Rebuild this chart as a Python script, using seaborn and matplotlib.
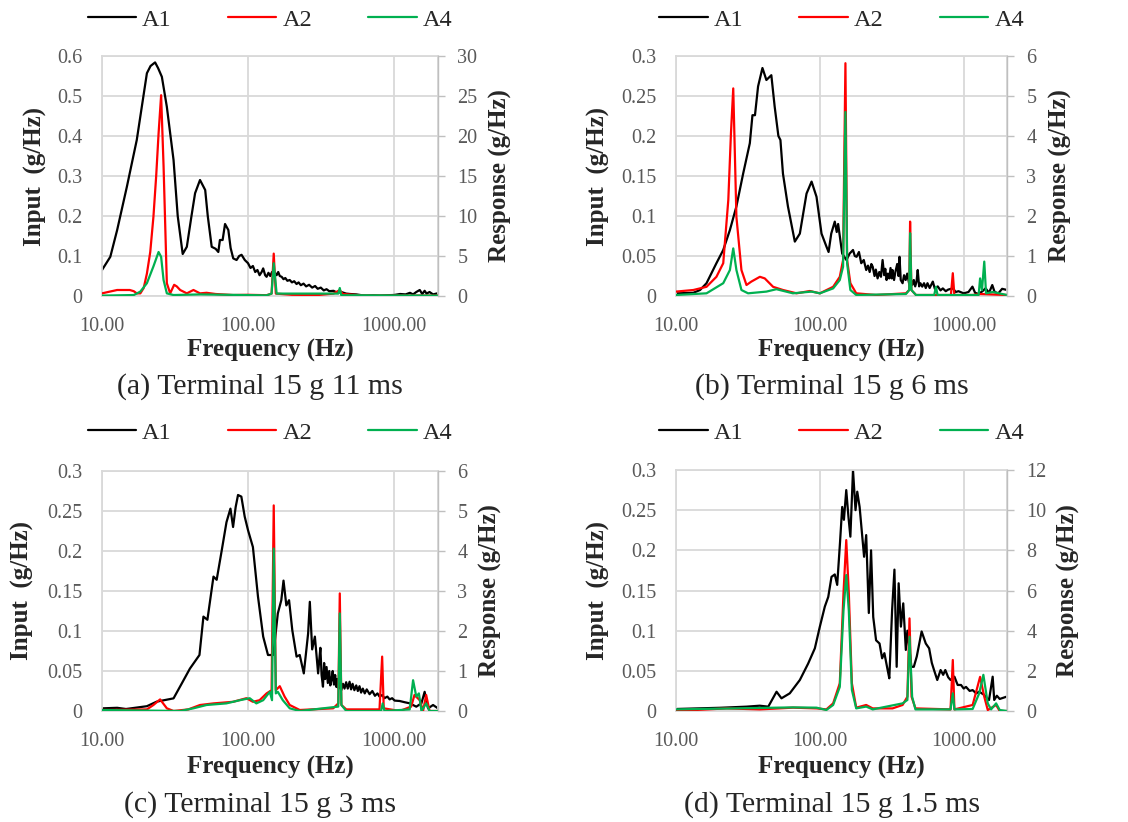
import matplotlib
matplotlib.use("Agg")
import matplotlib.pyplot as plt
import seaborn as sns
from matplotlib.ticker import FuncFormatter, NullLocator, FixedLocator

# ---------------- data (frequency Hz, value) ----------------
a_A1 = [(10, 0.065), (11.4, 0.098), (12.7, 0.165), (14.8, 0.273), (17.3, 0.39), (20.3, 0.557),
        (21.5, 0.575), (23.1, 0.584), (24.2, 0.57), (25.7, 0.548), (27.8, 0.473), (30.9, 0.34),
        (33, 0.2), (35.7, 0.105), (38.1, 0.123), (41, 0.2), (43.4, 0.257), (46.9, 0.29),
        (50.9, 0.265), (53, 0.2), (56.4, 0.123), (60, 0.118), (62.6, 0.11), (64.2, 0.14),
        (67, 0.14), (69.6, 0.18), (73.3, 0.165), (76, 0.12), (79.2, 0.094), (83.5, 0.09),
        (87, 0.1), (90.3, 0.103), (95, 0.09), (100, 0.082), (104, 0.07), (108, 0.075), (112, 0.06),
        (116, 0.065), (120, 0.052), (124, 0.06), (127, 0.069), (131, 0.052), (134, 0.048),
        (138, 0.058), (142, 0.05), (146, 0.06), (149, 0.05), (153, 0.058), (157, 0.052),
        (161, 0.06), (165, 0.05), (170, 0.048), (175, 0.042), (180, 0.045), (186, 0.038),
        (193, 0.04), (200, 0.034), (207, 0.037), (215, 0.03), (222, 0.034), (230, 0.027),
        (240, 0.031), (250, 0.024), (262, 0.028), (275, 0.021), (288, 0.025), (300, 0.018),
        (315, 0.021), (330, 0.014), (345, 0.017), (360, 0.012), (385, 0.013), (410, 0.008),
        (435, 0.01), (470, 0.006), (500, 0.005), (550, 0.004), (600, 0.002),
        (646, 0.001), (720, 0.002), (800, 0.001), (900, 0.002), (1000, 0.0025), (1100, 0.005),
        (1200, 0.004), (1285, 0.008), (1350, 0.004), (1420, 0.01), (1500, 0.015), (1560, 0.005),
        (1620, 0.013), (1670, 0.006), (1750, 0.01), (1850, 0.004), (2000, 0.007)]
a_A2 = [(10, 0.33), (11, 0.5), (12.7, 0.75), (14, 0.75), (15.5, 0.75), (16.5, 0.6), (17.3, 0.33),
        (18.3, 0.33), (19.3, 1.0), (20.3, 2.8), (21.4, 5.5), (22.5, 9.9), (23.5, 15), (24.4, 20.3),
        (25.4, 25.1), (26.4, 16.25), (27.8, 1.6), (29.3, 0.33), (31.2, 1.4), (32.5, 1.2), (34.3, 0.75),
        (38.1, 0.33), (42.3, 0.75), (46.9, 0.33), (52, 0.4), (60, 0.25), (79, 0.12), (100, 0.15),
        (134, 0.1), (145, 0.3), (150, 5.3), (155, 0.3), (200, 0.15), (300, 0.12), (385, 0.3),
        (425, 0.75), (445, 0.25), (600, 0.08), (1000, 0.05), (2000, 0.05)]
a_A4 = [(10, 0.05), (16.5, 0.12), (18.3, 0.55), (20.3, 1.6), (22.5, 3.7), (24.4, 5.5), (25.4, 4.9),
        (26.4, 2.0), (27.8, 0.33), (30.9, 0.12), (46.9, 0.2), (134, 0.08), (145, 0.3), (150, 4.1),
        (157, 0.3), (415, 0.3), (425, 1.0), (435, 0.1), (2000, 0.05)]

b_A1 = [(10, 0.0033), (13.2, 0.004), (14.7, 0.0075), (16.3, 0.016), (19.1, 0.041), (21.3, 0.0575),
        (23.7, 0.0825), (26.3, 0.112), (29.3, 0.153), (32.6, 0.191), (34, 0.226), (35.4, 0.226),
        (37.2, 0.262), (39.9, 0.285), (42.5, 0.27), (46, 0.276), (48.5, 0.237), (51.5, 0.2),
        (53.2, 0.195), (55.4, 0.153), (60, 0.112), (67, 0.068), (72.6, 0.078), (80.8, 0.128),
        (87.6, 0.143), (94.8, 0.124), (102.7, 0.078), (111, 0.062), (115, 0.055), (120, 0.078),
        (127, 0.093), (131, 0.08), (134, 0.09), (143, 0.053), (153, 0.045), (161, 0.053),
        (170, 0.0575), (175, 0.05), (180, 0.049), (187, 0.055), (194, 0.041), (202, 0.045),
        (210, 0.0325), (216, 0.038), (222, 0.03), (228, 0.04), (233, 0.0367), (240, 0.025),
        (245, 0.033), (252, 0.022), (259, 0.03), (266, 0.024), (273, 0.045), (280, 0.026),
        (285, 0.034), (291, 0.02), (297, 0.028), (304, 0.022), (310, 0.035), (316, 0.022),
        (320, 0.0325), (328, 0.02), (335, 0.03), (345, 0.04), (352, 0.025), (358, 0.049),
        (365, 0.02), (376, 0.016), (385, 0.026), (395, 0.02), (405, 0.028), (418, 0.015),
        (428, 0.022), (440, 0.014), (450, 0.02), (460, 0.012), (470, 0.018), (479, 0.0325),
        (490, 0.012), (500, 0.016), (515, 0.0117), (530, 0.016), (545, 0.01), (560, 0.016),
        (580, 0.01), (610, 0.018), (630, 0.009), (660, 0.012), (690, 0.007), (716, 0.0095),
        (750, 0.006), (780, 0.008), (840, 0.0096), (880, 0.005), (920, 0.006), (1000, 0.0033),
        (1080, 0.005), (1150, 0.0117), (1200, 0.004), (1270, 0.0025), (1350, 0.006), (1420, 0.0096),
        (1500, 0.004), (1580, 0.0137), (1640, 0.005), (1740, 0.0033), (1850, 0.009), (2000, 0.0075)]
b_A2 = [(10, 0.11), (13.2, 0.15), (16.3, 0.23), (19.1, 0.48), (21.3, 0.82), (23.1, 2.4), (24.1, 4.07),
        (25, 5.19), (26.3, 1.98), (28.5, 0.65), (30.9, 0.275), (33.4, 0.36), (38.3, 0.48), (41.4, 0.44),
        (47.3, 0.23), (55.4, 0.15), (68.9, 0.067), (85.2, 0.125), (100, 0.067), (123.7, 0.23),
        (137.6, 0.48), (145, 0.9), (150.6, 5.82), (154.7, 0.9), (163, 0.32), (179, 0.067), (246, 0.025),
        (397, 0.067), (418, 0.15), (424, 1.86), (433, 0.15), (466, 0.025), (815, 0.025), (840, 0.57),
        (861, 0.025), (1150, 0.025), (1300, 0.05), (2000, 0.025)]
b_A4 = [(10, 0.025), (16.3, 0.067), (21.3, 0.32), (23.7, 0.65), (25, 1.19), (26.3, 0.65), (28.5, 0.15),
        (31.7, 0.067), (42.5, 0.11), (49.9, 0.17), (65, 0.067), (87.6, 0.11), (100, 0.067), (123.7, 0.19),
        (137.6, 0.4), (145, 0.73), (150.6, 4.6), (154.7, 0.82), (163, 0.15), (179, 0.025), (397, 0.05),
        (418, 0.15), (424, 1.57), (433, 0.15), (466, 0.025), (624, 0.025), (641, 0.23), (658, 0.025),
        (1270, 0.025), (1300, 0.44), (1340, 0.15), (1390, 0.86), (1430, 0.067), (1590, 0.1), (2000, 0.025)]

c_A1 = [(10, 0.0033), (12.7, 0.004), (14.6, 0.0025), (20.3, 0.006), (23.7, 0.0117), (30.9, 0.0158),
        (35.2, 0.0345), (40, 0.053), (46.5, 0.07), (49.5, 0.118), (52.7, 0.114), (58, 0.168), (61, 0.164),
        (66.1, 0.201), (71.2, 0.236), (75.8, 0.253), (79, 0.23), (82.3, 0.255), (85.4, 0.27), (90, 0.268),
        (94.9, 0.243), (100, 0.226), (108, 0.205), (117, 0.143), (127, 0.093), (137, 0.07), (149, 0.07),
        (160, 0.122), (169, 0.1385), (175, 0.163), (183, 0.132), (191, 0.1385), (201, 0.101), (215, 0.068),
        (226, 0.07), (241, 0.047), (258, 0.097), (265, 0.1365), (275, 0.077), (287, 0.093),
        (302, 0.047), (308, 0.065), (313, 0.079), (319, 0.045), (326, 0.0304), (332, 0.06), (338, 0.04),
        (345, 0.055), (352, 0.035), (360, 0.05), (366, 0.032), (373, 0.0387), (380, 0.05), (388, 0.033),
        (395, 0.045), (403, 0.03), (410, 0.04), (418, 0.028), (425, 0.036), (435, 0.026), (447, 0.034),
        (458, 0.028), (470, 0.036), (482, 0.028), (496, 0.0366), (508, 0.027), (520, 0.034), (535, 0.026),
        (551, 0.032), (565, 0.025), (580, 0.031), (595, 0.023), (611, 0.028), (630, 0.022), (650, 0.027),
        (680, 0.021), (710, 0.025), (740, 0.019), (770, 0.022), (795, 0.018), (830, 0.02), (860, 0.016),
        (900, 0.018), (933, 0.0145), (970, 0.016), (1010, 0.013), (1093, 0.0125), (1180, 0.011),
        (1280, 0.0096), (1420, 0.0054), (1540, 0.0096), (1620, 0.024), (1710, 0.0033), (1850, 0.0075),
        (2000, 0.0033)]
c_A2 = [(10, 0.025), (20.3, 0.04), (22.5, 0.15), (25, 0.29), (27.8, 0.067), (30.9, 0.0), (39, 0.04),
        (46.9, 0.15), (58, 0.19), (79, 0.23), (97.5, 0.32), (108, 0.23), (120, 0.27), (134, 0.44),
        (145, 0.52), (150, 5.14), (155, 0.52), (165, 0.62), (178, 0.36), (193, 0.15), (226, 0.025),
        (383, 0.067), (415, 0.19), (425, 2.94), (436, 0.15), (471, 0.04), (795, 0.04), (829, 1.36),
        (850, 0.067), (1093, 0.0), (1310, 0.11), (1380, 0.4), (1500, 0.27), (1580, 0.0), (1660, 0.4),
        (1750, 0.0), (2000, 0.0)]
c_A4 = [(10, 0.025), (34.3, 0.0), (42.3, 0.067), (52, 0.15), (71, 0.19), (88, 0.27), (102.7, 0.32),
        (114, 0.19), (127, 0.27), (141, 0.48), (146, 0.27), (150, 4.06), (155, 0.44), (160, 0.48),
        (173, 0.27), (193, 0.067), (226, 0.0), (415, 0.11), (425, 2.44), (436, 0.15), (471, 0.0),
        (815, 0.0), (836, 0.19), (860, 0.0), (1280, 0.04), (1350, 0.77), (1420, 0.36), (1480, 0.44),
        (1540, 0.0), (1660, 0.19), (1750, 0.0), (2000, 0.0)]

d_A1 = [(10, 0.0025), (20.2, 0.004), (30.9, 0.0054), (38.2, 0.0066), (43.8, 0.0054), (50, 0.024),
        (54.1, 0.0158), (61.8, 0.022), (72.6, 0.0386), (82.9, 0.059), (92.3, 0.078), (100, 0.105),
        (108.3, 0.13), (114.4, 0.142), (120.5, 0.167), (127, 0.17), (132, 0.157), (138, 0.209),
        (143, 0.254), (147, 0.238), (152.6, 0.275), (158, 0.242), (163, 0.217), (170, 0.3), (177, 0.25),
        (182, 0.273), (189, 0.254), (203, 0.192), (210, 0.219), (219, 0.122), (227, 0.2), (235, 0.117),
        (246, 0.088), (260, 0.084), (271, 0.0656), (281, 0.072), (296, 0.051), (304, 0.0407),
        (318, 0.126), (330, 0.176), (342, 0.055), (353, 0.159), (366, 0.105), (380, 0.134), (396, 0.076),
        (406, 0.1), (433, 0.055), (450, 0.055), (472, 0.068), (510, 0.099), (545, 0.084), (575, 0.078),
        (600, 0.06), (622, 0.051), (655, 0.0386), (691, 0.051), (720, 0.045), (745, 0.051), (780, 0.042),
        (810, 0.0386), (862, 0.0427), (908, 0.0324), (958, 0.0324), (1000, 0.028), (1038, 0.03),
        (1100, 0.025), (1154, 0.026), (1220, 0.022), (1282, 0.024), (1390, 0.02), (1450, 0.016),
        (1500, 0.0137), (1590, 0.0427), (1630, 0.0137), (1700, 0.019), (1780, 0.015), (2000, 0.018)]
d_A2 = [(10, 0.0), (22.5, 0.13), (38.2, 0.08), (65, 0.166), (94.8, 0.13), (111, 0.08), (123.7, 0.38),
        (137.6, 1.38), (146, 5.86), (152.6, 8.51), (159, 5.86), (167, 1.38), (179, 0.166), (210, 0.3),
        (233, 0.13), (320, 0.13), (376, 0.3), (406, 0.71), (420, 4.61), (434, 0.71), (462, 0.13),
        (810, 0.08), (840, 2.54), (862, 0.08), (1154, 0.3), (1300, 1.7), (1390, 0.71), (1470, 0.05),
        (1680, 0.3), (1780, 0.0), (2000, 0.0)]
d_A4 = [(10, 0.08), (65, 0.18), (94.8, 0.166), (111, 0.05), (123.7, 0.3), (137.6, 1.2), (146, 5.0),
        (152.6, 6.77), (159, 5.0), (167, 1.05), (179, 0.13), (210, 0.22), (233, 0.08), (376, 0.38),
        (406, 0.55), (420, 3.7), (438, 0.71), (462, 0.08), (810, 0.08), (840, 0.88), (862, 0.08),
        (1154, 0.1), (1282, 0.88), (1370, 1.8), (1470, 0.38), (1550, 0.08), (1680, 0.38), (1780, 0.05),
        (2000, 0.0)]

captions = ["(a) Terminal 15 g 11 ms", "(b) Terminal 15 g 6 ms",
            "(c) Terminal 15 g 3 ms", "(d) Terminal 15 g 1.5 ms"]
series_names = ["A1", "A2", "A4"]
x_ticks = [10, 100, 1000]

# ---------------- style ----------------
sns.set_style("white")
plt.rcParams['font.family'] = ['Liberation Serif', 'DejaVu Serif']
GRID = '#d9d9d9'
TICK = '#595959'
COLORS = {'A1': '#000000', 'A2': '#ff0000', 'A4': '#00b050'}

W, H = 1128, 822
fig = plt.figure(figsize=(W / 100, H / 100), dpi=100)

# pixel layout: axes box, label centres (x for y-labels; y for x-label, caption, legend)
panels = [
    dict(rect=(102, 56, 438, 296), data=(a_A1, a_A2, a_A4), lmax=0.6, lstep=0.1, rmax=30, rstep=5,
         ylx=35, yrx=500, xly=350, capy=387, legy=20),
    dict(rect=(676, 56, 1007, 296), data=(b_A1, b_A2, b_A4), lmax=0.3, lstep=0.05, rmax=6, rstep=1,
         ylx=598, yrx=1060, xly=350, capy=387, legy=20),
    dict(rect=(102, 471, 438, 711), data=(c_A1, c_A2, c_A4), lmax=0.3, lstep=0.05, rmax=6, rstep=1,
         ylx=22, yrx=490, xly=767, capy=805, legy=433),
    dict(rect=(676, 470, 1007, 711), data=(d_A1, d_A2, d_A4), lmax=0.3, lstep=0.05, rmax=12, rstep=2,
         ylx=598, yrx=1068, xly=767, capy=805, legy=433),
]

fmt_num = FuncFormatter(lambda v, _: f"{v:.10g}" if abs(v) > 1e-12 else "0")

for p, cap in zip(panels, captions):
    x0, y0, x1, y1 = p['rect']
    wpx, hpx = x1 - x0, y1 - y0
    ax = fig.add_axes([x0 / W, 1 - y1 / H, wpx / W, hpx / H])
    ax2 = ax.twinx()
    A1, A2, A4 = p['data']

    f1, v1 = zip(*A1)
    sns.lineplot(x=list(f1), y=list(v1), ax=ax, color=COLORS['A1'], lw=1.6,
                 sort=False, estimator=None, label='A1', legend=False)
    f2, v2 = zip(*A2)
    sns.lineplot(x=list(f2), y=list(v2), ax=ax2, color=COLORS['A2'], lw=1.6,
                 sort=False, estimator=None, label='A2', legend=False)
    f4, v4 = zip(*A4)
    sns.lineplot(x=list(f4), y=list(v4), ax=ax2, color=COLORS['A4'], lw=1.6,
                 sort=False, estimator=None, label='A4', legend=False)

    ax.set_xscale('log')
    ax.set_xlim(10, 2000)
    ax.xaxis.set_major_locator(FixedLocator(x_ticks))
    ax.xaxis.set_minor_locator(NullLocator())
    ax.xaxis.set_major_formatter(FuncFormatter(lambda v, _: f"{v:.2f}"))

    n = int(round(p['lmax'] / p['lstep']))
    ax.set_ylim(0, p['lmax'])
    ax.set_yticks([round(i * p['lstep'], 4) for i in range(n + 1)])
    ax.yaxis.set_major_formatter(fmt_num)
    m = int(round(p['rmax'] / p['rstep']))
    ax2.set_ylim(0, p['rmax'])
    ax2.set_yticks([i * p['rstep'] for i in range(m + 1)])
    ax2.yaxis.set_major_formatter(fmt_num)

    ax.grid(True, color=GRID, lw=1.3)
    ax.set_axisbelow(True)
    ax2.grid(False)
    for s in ax.spines.values():
        s.set_color(GRID)
        s.set_linewidth(1.3)
    for k, s in ax2.spines.items():
        s.set_visible(k == 'right')
    ax2.spines['right'].set_color('#bfbfbf')
    ax2.spines['right'].set_linewidth(1.0)

    ax.tick_params(axis='y', length=0, pad=14, labelsize=14.5, labelcolor=TICK)
    ax.tick_params(axis='x', length=0, pad=15, labelsize=14.5, labelcolor=TICK)
    ax2.tick_params(axis='y', length=5, width=1, color='#bfbfbf', direction='out', pad=9,
                    labelsize=14.5, labelcolor=TICK)

    ax.set_xlabel("Frequency (Hz)", fontsize=18, fontweight='bold')
    ax.xaxis.label.set_va('center')
    ax.xaxis.set_label_coords(0.5, (y1 - p['xly']) / hpx)
    ax.set_ylabel("Input  (g/Hz)", fontsize=18, fontweight='bold')
    ax.yaxis.label.set_va('center')
    ax.yaxis.set_label_coords((p['ylx'] - x0) / wpx, 0.5)
    ax2.set_ylabel("Response (g/Hz)", fontsize=18, fontweight='bold')
    ax2.yaxis.label.set_va('center')
    ax2.yaxis.set_label_coords((p['yrx'] - x0) / wpx, 0.5)

    ax.text(0.47, (y1 - p['capy']) / hpx, cap, transform=ax.transAxes, ha='center', va='center',
            fontsize=21.5)

    handles = ax.get_lines()[:1] + ax2.get_lines()[:2]
    ax2.legend(handles, series_names, loc='center', bbox_to_anchor=(0.5, (y1 - p['legy']) / hpx),
               ncol=3, frameon=False, fontsize=17.5, handlelength=2.0, handletextpad=0.25,
               columnspacing=2.3, borderaxespad=0)

fig.savefig("out.png", dpi=100)
